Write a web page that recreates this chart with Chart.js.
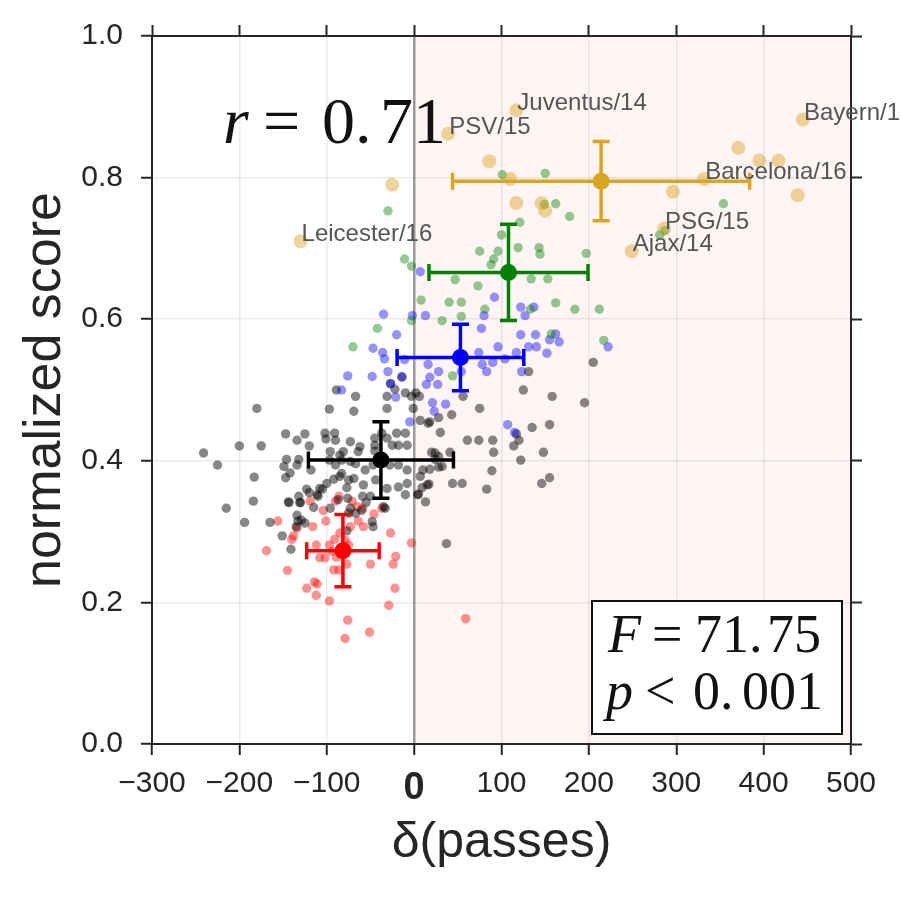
<!DOCTYPE html>
<html><head><meta charset="utf-8">
<script src="https://cdn.jsdelivr.net/npm/chart.js@4.4.0/dist/chart.umd.min.js"></script>
<style>html,body{margin:0;padding:0;background:#fff;}</style>
</head><body>
<canvas id="c" width="900" height="900"></canvas>
<script>
// ---------------- data ----------------
const goldX = [-130,-25,39,117,86,110,117,146,150,296,286,249,332,371,395,417,439,445];
const goldY = [0.710,0.790,0.862,0.895,0.823,0.798,0.764,0.764,0.753,0.780,0.728,0.696,0.798,0.842,0.824,0.824,0.775,0.882];

const greenX = [101,150,149,162,178,121,100,75,96,91,88,119,143,144,197,354,287,281,-30,-11,-3,47,73,134,153,8,40,54,81,133,162,184,212,32,54,-3,-42,-70,157,217,44];
const greenY = [0.804,0.806,0.762,0.763,0.745,0.737,0.719,0.696,0.696,0.685,0.677,0.701,0.701,0.692,0.693,0.763,0.725,0.719,0.753,0.685,0.675,0.656,0.647,0.657,0.657,0.627,0.624,0.624,0.614,0.614,0.623,0.614,0.614,0.598,0.604,0.598,0.587,0.561,0.579,0.570,0.520];

const blueX = [7,92,-35,13,-2,80,122,137,127,77,-20,122,139,155,162,166,131,140,152,222,96,-47,-36,-34,74,104,117,90,78,83,123,16,28,18,54,14,27,-30,-14,-48,-76,-27,-83,-11,-21,21,23,-5,36,107,115];
const blueY = [0.667,0.631,0.607,0.605,0.605,0.605,0.617,0.617,0.605,0.587,0.578,0.578,0.578,0.571,0.579,0.568,0.561,0.561,0.552,0.561,0.561,0.559,0.553,0.544,0.553,0.544,0.553,0.539,0.536,0.526,0.526,0.536,0.526,0.518,0.526,0.508,0.508,0.526,0.519,0.519,0.520,0.509,0.500,0.543,0.490,0.482,0.470,0.455,0.480,0.451,0.440];

const blackX = [
-89,-67,-31,-22,-14,-27,-3,6,-1,-180,
-97,-69,-31,7,16,-147,-125,-134,-120,-200,
-175,-241,-225,-183,-146,-149,-147,-142,-132,-134,
-118,-123,-132,-144,-131,-115,-134,-133,-125,-215,
-184,-194,-165,-151,-141,-102,-91,-90,-101,-96,
-81,-73,-64,-97,-83,-90,-67,-56,-83,-69,
-58,-77,-92,-100,-105,-111,-85,-73,-85,-75,
-47,-45,-45,-45,-37,-31,-25,-20,-10,-18,
-8,-28,-18,-8,-44,-31,-18,-10,-8,-35,
-48,-47,-73,-75,-60,7,15,10,4,13,
18,24,28,18,28,-10,2,205,131,125,
158,195,56,75,43,28,135,155,117,120,
114,61,74,90,91,148,122,89,155,146,
44,55,83,32,20,41,24,37,-143,-130,
-129,-135,-110,-108,-96,-87,-76,-67,-77,-59,
-50,-55,-33,5,9,17,-120,-62,-40,30];
const blackY = [
0.500,0.491,0.491,0.501,0.518,0.509,0.491,0.491,0.474,0.474,
0.473,0.470,0.474,0.457,0.453,0.438,0.438,0.429,0.421,0.421,
0.421,0.411,0.394,0.377,0.402,0.392,0.376,0.383,0.402,0.394,
0.387,0.360,0.350,0.342,0.341,0.334,0.323,0.315,0.312,0.333,
0.343,0.313,0.313,0.294,0.275,0.439,0.439,0.429,0.431,0.413,
0.413,0.427,0.413,0.401,0.401,0.394,0.396,0.387,0.382,0.375,
0.366,0.362,0.374,0.368,0.360,0.352,0.408,0.399,0.378,0.373,
0.394,0.422,0.432,0.414,0.439,0.432,0.422,0.439,0.439,0.422,
0.422,0.394,0.394,0.387,0.373,0.361,0.363,0.352,0.368,0.335,
0.314,0.307,0.333,0.326,0.330,0.378,0.366,0.387,0.352,0.342,
0.455,0.411,0.406,0.388,0.391,0.496,0.496,0.539,0.526,0.500,
0.491,0.482,0.491,0.474,0.465,0.461,0.447,0.451,0.438,0.429,
0.421,0.429,0.429,0.429,0.412,0.412,0.401,0.386,0.376,0.368,
0.368,0.368,0.360,0.392,0.412,0.412,0.402,0.283,0.341,0.341,
0.316,0.307,0.350,0.361,0.333,0.345,0.347,0.326,0.301,0.350,
0.350,0.341,0.333,0.353,0.362,0.367,0.355,0.420,0.405,0.440];

const redX = [-86,-119,-90,-71,-59,-46,-37,-156,-134,-138,-140,-116,-101,-85,-79,-73,-64,-58,-27,-3,-169,-112,-97,-91,-108,-102,-94,-89,-75,-77,-92,-86,-50,-24,-21,-145,-114,-111,-123,-112,-97,-22,-29,-76,-51,-79,59,-65,-104];
const redY = [0.350,0.343,0.343,0.343,0.333,0.325,0.333,0.315,0.305,0.294,0.289,0.307,0.315,0.298,0.288,0.307,0.315,0.307,0.298,0.284,0.273,0.281,0.281,0.289,0.263,0.263,0.272,0.264,0.281,0.254,0.246,0.246,0.254,0.254,0.265,0.245,0.229,0.226,0.220,0.210,0.202,0.220,0.196,0.175,0.158,0.149,0.177,0.335,0.330];

// group means with error bars (gold, green, blue, black, red)
const meanX = [214, 108, 53, -38, -81.5];
const meanY = [0.795, 0.666, 0.546, 0.401, 0.273];
const errX  = [170, 91, 72.5, 83, 41.5];
const errY  = [0.056, 0.068, 0.047, 0.054, 0.051];

const teamLabels = ['Leicester/16','PSV/15','Juventus/14','Bayern/1','Barcelona/16','PSG/15','Ajax/14'];
const teamX = [-130, 39, 117, 445, 332, 286, 249];
const teamY = [0.710, 0.862, 0.895, 0.882, 0.798, 0.728, 0.696];

const xTickValues = [-300,-200,-100,0,100,200,300,400,500];
const xTickLabels = ['\u2212300','\u2212200','\u2212100','0','100','200','300','400','500'];
const yTickValues = [0,0.2,0.4,0.6,0.8,1.0];
const yTickLabels = ['0.0','0.2','0.4','0.6','0.8','1.0'];

const shadeRange = [0, 500];
const corrText = [['r', true], ['=', false], ['0.', false], ['71', false]];
const statLine1 = [['F', true], ['=', false], ['71.', false], ['75', false]];
const statLine2 = [['p', true], ['<', false], ['0.', false], ['001', false]];

// ---------------- styles ----------------
const SANS = '"Liberation Sans", Arial, sans-serif';
const SERIF = '"Liberation Serif", "Times New Roman", serif';
const INK = '#262626';
const groupColors = ['#daa520', '#008000', '#0000ff', '#000000', '#ff0000'];
const zip = (xs, ys) => xs.map((x, i) => ({x, y: ys[i]}));

function drawPieces(ctx, pieces, offsets, x, y, size) {
  ctx.textBaseline = 'alphabetic';
  ctx.textAlign = 'left';
  ctx.fillStyle = '#111';
  pieces.forEach((p, i) => {
    ctx.font = (p[1] ? 'italic ' : '') + size + 'px ' + SERIF;
    ctx.fillText(p[0], x + offsets[i], y);
  });
}

const decor = {
  id: 'decor',
  beforeDraw(chart) {
    const {ctx, chartArea: a, scales: {x}} = chart;
    ctx.save();
    ctx.fillStyle = '#ffffff';
    ctx.fillRect(0, 0, chart.width, chart.height);
    const x0 = x.getPixelForValue(shadeRange[0]);
    const x1 = x.getPixelForValue(shadeRange[1]);
    ctx.fillStyle = 'rgba(250,128,114,0.08)';
    ctx.fillRect(x0, a.top, x1 - x0, a.bottom - a.top);
    drawPieces(ctx, corrText, [0, 40, 99, 157], a.left + 71, a.top + 107, 66);
    ctx.restore();
  },
  beforeDatasetDraw(chart, args) {
    if (args.index !== 0) return;
    const {ctx, scales: {x, y}} = chart;
    ctx.save();
    ctx.lineWidth = 3.5;
    const cap = 8.5;
    meanX.forEach((mx, i) => {
      ctx.strokeStyle = groupColors[i];
      const px = x.getPixelForValue(mx), py = y.getPixelForValue(meanY[i]);
      const xl = x.getPixelForValue(mx - errX[i]), xr = x.getPixelForValue(mx + errX[i]);
      const yt = y.getPixelForValue(meanY[i] + errY[i]), yb = y.getPixelForValue(meanY[i] - errY[i]);
      ctx.beginPath();
      ctx.moveTo(xl, py); ctx.lineTo(xr, py);
      ctx.moveTo(px, yt); ctx.lineTo(px, yb);
      ctx.moveTo(xl, py - cap); ctx.lineTo(xl, py + cap);
      ctx.moveTo(xr, py - cap); ctx.lineTo(xr, py + cap);
      ctx.moveTo(px - cap, yt); ctx.lineTo(px + cap, yt);
      ctx.moveTo(px - cap, yb); ctx.lineTo(px + cap, yb);
      ctx.stroke();
    });
    ctx.restore();
  },
  afterDatasetsDraw(chart) {
    const {ctx, chartArea: a, scales: {x, y}} = chart;
    ctx.save();
    ctx.font = '24px ' + SANS;
    ctx.fillStyle = '#555555';
    ctx.textAlign = 'left';
    ctx.textBaseline = 'alphabetic';
    teamLabels.forEach((t, i) => {
      ctx.fillText(t, x.getPixelForValue(teamX[i]) + 1, y.getPixelForValue(teamY[i]));
    });
    // stats box
    const bx = a.left + 440, by = a.top + 565, bw = 250, bh = 133;
    ctx.fillStyle = '#ffffff';
    ctx.fillRect(bx, by, bw, bh);
    ctx.strokeStyle = '#111';
    ctx.lineWidth = 2;
    ctx.strokeRect(bx, by, bw, bh);
    drawPieces(ctx, statLine1, [0, 44, 87, 159], bx + 16, by + 51, 54);
    drawPieces(ctx, statLine2, [0, 39, 87, 136], bx + 14, by + 108, 54);
    ctx.restore();
  }
};

const scatterSet = (xs, ys, color, r) => ({
  data: zip(xs, ys), backgroundColor: color, borderWidth: 0,
  pointRadius: r, pointHoverRadius: r
});

const tickMarks = {tickColor: INK, tickLength: 11, tickWidth: 2, drawTicks: true};

new Chart(document.getElementById('c'), {
  type: 'scatter',
  data: {
    datasets: [
      {data: zip(meanX, meanY), backgroundColor: groupColors, borderWidth: 0, pointRadius: 8.5, pointHoverRadius: 8.5},
      scatterSet(goldX, goldY, 'rgba(218,165,32,0.45)', 7),
      scatterSet(greenX, greenY, 'rgba(0,128,0,0.42)', 4.7),
      scatterSet(blueX, blueY, 'rgba(0,0,255,0.42)', 4.7),
      scatterSet(blackX, blackY, 'rgba(0,0,0,0.47)', 4.7),
      scatterSet(redX, redY, 'rgba(255,0,0,0.43)', 4.7)
    ]
  },
  options: {
    responsive: false,
    animation: false,
    events: [],
    layout: {padding: {top: 25, right: 38, left: 0, bottom: 0}},
    plugins: {legend: {display: false}, tooltip: {enabled: false}},
    scales: {
      x: {
        type: 'linear', position: 'bottom', min: -300, max: 500,
        afterBuildTicks: s => { s.ticks = xTickValues.map(v => ({value: v})); },
        afterFit: s => { s.height = 156; },
        ticks: {
          callback: v => xTickLabels[xTickValues.indexOf(v)],
          color: INK, padding: 11, maxRotation: 0, autoSkip: false,
          font: c => (c.tick && c.tick.value === 0) ? {family: SANS, size: 38, weight: 'bold'} : {family: SANS, size: 30}
        },
        grid: Object.assign({
          color: c => (c.tick && c.tick.value === 0) ? '#9a9a9a' : 'rgba(0,0,0,0.08)',
          lineWidth: c => (c.tick && c.tick.value === 0) ? 2.5 : 1.5
        }, tickMarks),
        border: {display: true, color: INK, width: 2},
        title: {display: true, text: 'δ(passes)', color: INK, font: {family: SANS, size: 50}, padding: {top: 0, bottom: 27}}
      },
      y: {
        type: 'linear', position: 'left', min: 0, max: 1,
        afterBuildTicks: s => { s.ticks = yTickValues.map(v => ({value: v})); },
        afterFit: s => { s.width = 152; },
        ticks: {
          callback: v => yTickLabels[Math.round(v * 5)],
          color: INK, padding: 18, font: {family: SANS, size: 30}
        },
        grid: Object.assign({color: 'rgba(0,0,0,0.08)', lineWidth: 1.5}, tickMarks),
        border: {display: true, color: INK, width: 2},
        title: {display: true, text: 'normalized score', color: INK, font: {family: SANS, size: 52}, padding: {top: 14, bottom: 0}}
      },
      x2: {
        type: 'linear', position: 'top', min: -300, max: 500,
        afterBuildTicks: s => { s.ticks = xTickValues.map(v => ({value: v})); },
        afterFit: s => { s.height = 11; },
        ticks: {display: false},
        grid: Object.assign({drawOnChartArea: false}, tickMarks),
        border: {display: true, color: INK, width: 2}
      },
      y2: {
        type: 'linear', position: 'right', min: 0, max: 1,
        afterBuildTicks: s => { s.ticks = yTickValues.map(v => ({value: v})); },
        afterFit: s => { s.width = 11; },
        ticks: {display: false},
        grid: Object.assign({drawOnChartArea: false}, tickMarks),
        border: {display: true, color: INK, width: 2}
      }
    }
  },
  plugins: [decor]
});
</script>
</body></html>
